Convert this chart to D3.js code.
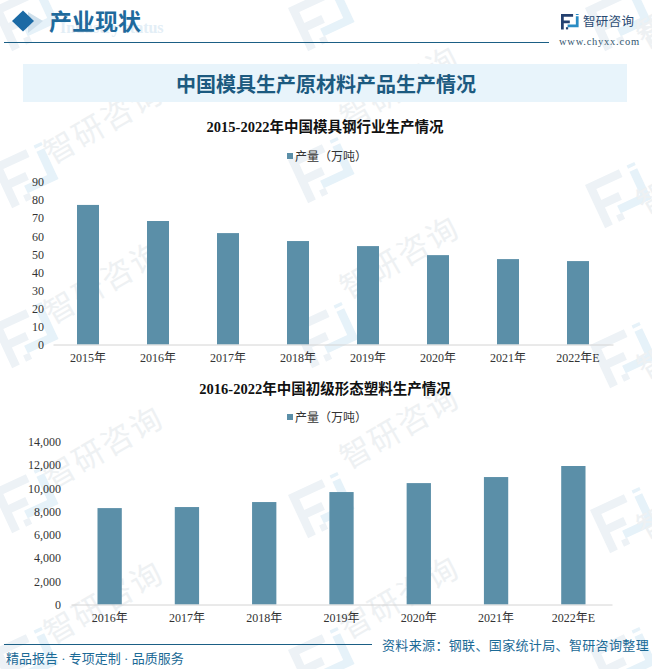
<!DOCTYPE html>
<html>
<head>
<meta charset="utf-8">
<script src="https://cdn.jsdelivr.net/npm/d3@7"></script>
<style>
	html, body { margin: 0; padding: 0; background: #fff; }
	svg { display: block; }
	text { font-family: "Liberation Serif", "Noto Sans CJK SC", serif; }
</style>
</head>
<body>
<main></main>
<script>
const steelYears = ["2015年", "2016年", "2017年", "2018年", "2019年", "2020年", "2021年", "2022年E"];
const steelOutput = [77.3, 68.4, 61.7, 57.3, 54.5, 49.5, 47.3, 46.2];
const steelTicks = [0, 10, 20, 30, 40, 50, 60, 70, 80, 90];

const plasticYears = ["2016年", "2017年", "2018年", "2019年", "2020年", "2021年", "2022年E"];
const plasticOutput = [8290, 8380, 8810, 9670, 10440, 10960, 11910];
const plasticTicks = [0, 2000, 4000, 6000, 8000, 10000, 12000, 14000];

const seriesName = "产量（万吨）";
const pageTitle = "中国模具生产原材料产品生产情况";
const steelTitle = "2015-2022年中国模具钢行业生产情况";
const plasticTitle = "2016-2022年中国初级形态塑料生产情况";

const barColor = "#5b8fa8";
const darkBlue = "#1b5f85";

const svg = d3.select("main")
	.append("svg")
	.attr("width", 652)
	.attr("height", 669);

svg.append("rect").attr("width", 652).attr("height", 669).attr("fill", "#fff");

// watermark, logo and name repeated over the page
const watermark = svg.append("g");
function logo(g, x, y, s, c1, c2) {
	const m = g.append("g").attr("transform", `translate(${x},${y}) scale(${s})`);
	m.append("path").attr("fill", c1).attr("d", "M0 0H22V5H5V12H16V17H5V28H0Z");
	m.append("path").attr("fill", c2).attr("d", "M27 4H32V24H12V19H27ZM27 0H32V2H27Z");
	m.append("rect").attr("fill", c1).attr("x", 9).attr("y", 24).attr("width", 4).attr("height", 4);
	return m;
}
const markLogos = [[-8, 8], [288, 8], [585, 8], [-8, 165], [288, 160], [585, 185], [-8, 325], [292, 325], [590, 345], [-8, 490], [288, 495], [590, 510], [-8, 650], [288, 650], [590, 650]];
markLogos.forEach(p => {
	const w = logo(watermark, p[0], p[1], 1.7, "#edf2f6", "#e6f2f9");
	w.attr("transform", `translate(${p[0]},${p[1]}) rotate(-25) scale(1.7)`);
});
const markNames = [[52, 165], [348, 130], [645, 45], [52, 325], [348, 300], [645, 215], [52, 490], [348, 470], [645, 380], [52, 645], [348, 640], [645, 540], [645, 50]];
markNames.forEach(p => {
	watermark.append("text")
		.attr("transform", `translate(${p[0]},${p[1]}) rotate(-30)`)
		.attr("font-size", 31)
		.attr("letter-spacing", 2)
		.attr("fill", "#eef1f3")
		.text("智研咨询");
});

// header
svg.append("text")
	.attr("x", 60).attr("y", 33)
	.attr("font-size", 16).attr("font-weight", "bold")
	.attr("fill", "#e3eef6")
	.text("Industry status");
svg.append("path").attr("d", "M28 12L43 21L28 33Z").attr("fill", "#cfe0ec");
svg.append("path").attr("d", "M23 10.5L34 21L23 31.5L12 21Z").attr("fill", "#1b6aa5");
svg.append("text")
	.attr("x", 49).attr("y", 30)
	.attr("font-size", 23).attr("font-weight", "bold")
	.attr("fill", "#1f6a9c")
	.text("产业现状");
svg.append("line")
	.attr("x1", 4).attr("x2", 549).attr("y1", 42.5).attr("y2", 42.5)
	.attr("stroke", darkBlue).attr("stroke-width", 1);
logo(svg, 561, 14, 0.55, "#24406f", "#2a8cc4");
svg.append("text")
	.attr("x", 583).attr("y", 26)
	.attr("font-size", 12.5).attr("letter-spacing", 0.3)
	.attr("fill", "#2a4a72")
	.text("智研咨询");
svg.append("text")
	.attr("x", 559).attr("y", 45)
	.attr("font-size", 10.5).attr("letter-spacing", 0.75)
	.attr("fill", "#33566f")
	.text("www.chyxx.com");

// banner
svg.append("rect")
	.attr("x", 23).attr("y", 64).attr("width", 604).attr("height", 38)
	.attr("fill", "#e8f4fb");
svg.append("text")
	.attr("x", 326).attr("y", 92)
	.attr("text-anchor", "middle")
	.attr("font-size", 20).attr("font-weight", "bold")
	.attr("fill", "#1c5a80")
	.text(pageTitle);

function barChart(opts) {
	const xScale = d3.scaleBand()
		.domain(opts.categories)
		.range([opts.left, opts.right]);
	const yScale = d3.scaleLinear()
		.domain(opts.yDomain)
		.range([opts.bottom, opts.top]);

	const graph = svg.append("g");

	graph.append("text")
		.attr("x", opts.titleX).attr("y", opts.titleY)
		.attr("text-anchor", "middle")
		.attr("font-size", 14.5).attr("font-weight", "bold")
		.attr("fill", "#111")
		.text(opts.title);

	graph.append("rect")
		.attr("x", 287).attr("y", opts.legendY - 4)
		.attr("width", 6).attr("height", 6)
		.attr("fill", barColor);
	graph.append("text")
		.attr("x", 295).attr("y", opts.legendY + 4)
		.attr("font-size", 12)
		.attr("fill", "#333")
		.text(seriesName);

	graph.selectAll("rect.bar")
		.data(opts.values)
		.enter()
		.append("rect")
		.attr("class", "bar")
		.attr("x", (d, i) => xScale(opts.categories[i]) + (xScale.bandwidth() - opts.barWidth) / 2)
		.attr("y", d => yScale(d))
		.attr("width", opts.barWidth)
		.attr("height", d => opts.bottom - yScale(d))
		.attr("fill", barColor);

	const xAxis = graph.append("g")
		.attr("transform", `translate(0,${opts.bottom})`)
		.call(d3.axisBottom(xScale).tickSize(0).tickPadding(9));
	xAxis.select(".domain").attr("stroke", "#d4d4d4");
	xAxis.selectAll("text").attr("font-size", 12).attr("fill", "#333")
		.style("font-family", '"Liberation Serif", "Noto Sans CJK SC", serif');

	const yAxis = graph.append("g")
		.attr("transform", `translate(${opts.left},0)`)
		.call(d3.axisLeft(yScale).tickValues(opts.ticks).tickSize(0).tickPadding(opts.tickPad));
	yAxis.select(".domain").remove();
	yAxis.selectAll("text").attr("font-size", 12).attr("fill", "#333")
		.style("font-family", '"Liberation Serif", "Noto Sans CJK SC", serif');
}

barChart({
	categories: steelYears, values: steelOutput, ticks: steelTicks, yDomain: [0, 90],
	title: steelTitle, titleX: 325, titleY: 132, legendY: 157,
	left: 53, right: 613, top: 182, bottom: 344.5, barWidth: 22, tickPad: 9
});

barChart({
	categories: plasticYears, values: plasticOutput, ticks: plasticTicks, yDomain: [0, 14000],
	title: plasticTitle, titleX: 325, titleY: 394, legendY: 418,
	left: 71, right: 612, top: 441.7, bottom: 604.5, barWidth: 24.3, tickPad: 10
});

// footer
svg.append("line")
	.attr("x1", 4).attr("x2", 372).attr("y1", 644.5).attr("y2", 644.5)
	.attr("stroke", darkBlue).attr("stroke-width", 1);
svg.append("text")
	.attr("x", 6).attr("y", 663)
	.attr("font-size", 13).attr("fill", "#1b6a96")
	.text("精品报告 · 专项定制 · 品质服务");
svg.append("text")
	.attr("x", 382).attr("y", 650)
	.attr("font-size", 13).attr("letter-spacing", 0.35)
	.attr("fill", "#1b6a96")
	.text("资料来源：钢联、国家统计局、智研咨询整理");
</script>
</body>
</html>
